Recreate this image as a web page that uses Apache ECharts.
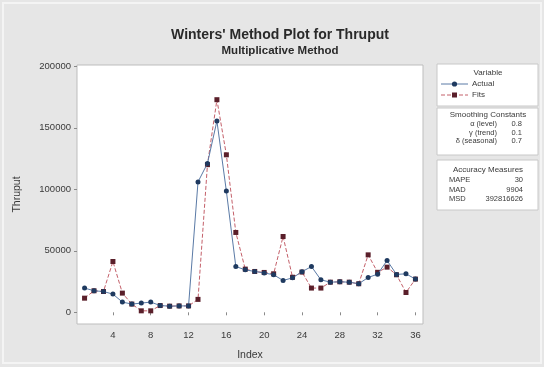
<!DOCTYPE html>
<html>
<head>
<meta charset="utf-8">
<script src="https://cdn.jsdelivr.net/npm/echarts@6/dist/echarts.min.js"></script>
<style>
html,body{margin:0;padding:0;background:#e6e6e6;}
#c{width:544px;height:367px;}
</style>
</head>
<body>
<div id="c"></div>
<script>
const indexValues = [1,2,3,4,5,6,7,8,9,10,11,12,13,14,15,16,17,18,19,20,21,22,23,24,25,26,27,28,29,30,31,32,33,34,35,36];
const actual = [19700,17500,16900,14800,8300,6700,7500,8300,5500,5000,5200,5200,106000,121000,155500,98500,37200,34500,33200,32000,30500,25900,28000,33000,37200,26400,24500,24800,24500,23200,28300,31000,42100,30800,31300,27000];
const fits = [11500,17500,16900,41300,15600,6700,1200,1200,5500,5000,5200,5200,10500,120000,172800,128000,64900,35100,33200,32400,31300,61600,28500,32700,19700,19700,24500,24800,24500,23200,46700,32500,36700,30500,16100,27000];
const xTicks = [4,8,12,16,20,24,28,32,36];
const yTicks = [0,50000,100000,150000,200000];
const smoothing = [["\u03b1 (level)","0.8"],["\u03b3 (trend)","0.1"],["\u03b4 (seasonal)","0.7"]];
const accuracy = [["MAPE","30"],["MAD","9904"],["MSD","392816626"]];

const chart = echarts.init(document.getElementById('c'));
const font = 'Liberation Sans, Arial, sans-serif';
const txt = '#3a3a3a';

const graphic = [
  {type:'rect', shape:{x:3,y:3,width:538,height:360}, style:{fill:'#e6e6e6', stroke:'#f4f4f4', lineWidth:2}, z:-10},
  {type:'rect', shape:{x:437,y:64,width:101,height:42}, style:{fill:'#ffffff', stroke:'#c8c8c8', lineWidth:1}},
  {type:'text', x:488, y:73, style:{text:'Variable', font:'8px '+font, fill:txt, align:'center', verticalAlign:'middle'}},
  {type:'line', shape:{x1:441,y1:84,x2:468,y2:84}, style:{stroke:'#5a7aa6', lineWidth:1}},
  {type:'circle', shape:{cx:454.5,cy:84,r:2.6}, style:{fill:'#1f3a60'}},
  {type:'text', x:472, y:84, style:{text:'Actual', font:'8px '+font, fill:txt, align:'left', verticalAlign:'middle'}},
  {type:'line', shape:{x1:441,y1:95,x2:468,y2:95}, style:{stroke:'#c4606a', lineWidth:1, lineDash:[4,2]}},
  {type:'rect', shape:{x:452,y:92.5,width:5,height:5}, style:{fill:'#5a1f2a'}},
  {type:'text', x:472, y:95, style:{text:'Fits', font:'8px '+font, fill:txt, align:'left', verticalAlign:'middle'}},
  {type:'rect', shape:{x:437,y:108,width:101,height:47}, style:{fill:'#ffffff', stroke:'#c8c8c8', lineWidth:1}},
  {type:'text', x:488, y:115, style:{text:'Smoothing Constants', font:'8px '+font, fill:txt, align:'center', verticalAlign:'middle'}},
  {type:'rect', shape:{x:437,y:160,width:101,height:50}, style:{fill:'#ffffff', stroke:'#c8c8c8', lineWidth:1}},
  {type:'text', x:488, y:170, style:{text:'Accuracy Measures', font:'8px '+font, fill:txt, align:'center', verticalAlign:'middle'}}
];
smoothing.forEach((r,i)=>{
  const y = 124 + i*8.5;
  graphic.push({type:'text', x:497, y:y, style:{text:r[0], font:'7.5px '+font, fill:txt, align:'right', verticalAlign:'middle'}});
  graphic.push({type:'text', x:522, y:y, style:{text:r[1], font:'7.5px '+font, fill:txt, align:'right', verticalAlign:'middle'}});
});
accuracy.forEach((r,i)=>{
  const y = 180 + i*9.7;
  graphic.push({type:'text', x:449, y:y, style:{text:r[0], font:'7.5px '+font, fill:txt, align:'left', verticalAlign:'middle'}});
  graphic.push({type:'text', x:523, y:y, style:{text:r[1], font:'7.5px '+font, fill:txt, align:'right', verticalAlign:'middle'}});
});

chart.setOption({
  animation:false,
  backgroundColor:'#e6e6e6',
  title:[
    {text:"Winters' Method Plot for Thruput", left:275, top:23, textAlign:'center',
     textStyle:{fontFamily:font, fontSize:14, fontWeight:'bold', color:'#2a2a2a'}},
    {text:'Multiplicative Method', left:275, top:40, textAlign:'center',
     textStyle:{fontFamily:font, fontSize:11.5, fontWeight:'bold', color:'#2a2a2a'}}
  ],
  grid:{left:77, right:121, top:65, bottom:43, show:true, backgroundColor:'#ffffff', borderColor:'#bdbdbd', borderWidth:1},
  xAxis:{
    type:'value', min:0.2, max:36.8,
    name:'Index', nameLocation:'middle', nameGap:26,
    nameTextStyle:{fontFamily:font, fontSize:10.5, color:txt},
    axisLine:{show:false},
    axisTick:{show:true, customValues:xTicks, length:3, lineStyle:{color:'#8a8a8a'}},
    axisLabel:{customValues:xTicks, fontFamily:font, fontSize:9.5, color:txt, margin:6},
    splitLine:{show:false}
  },
  yAxis:{
    type:'value', min:-9500, max:201000,
    name:'Thruput', nameLocation:'middle', nameGap:54, nameRotate:90,
    nameTextStyle:{fontFamily:font, fontSize:10.5, color:txt},
    axisLine:{show:false},
    axisTick:{show:true, customValues:yTicks, length:3, lineStyle:{color:'#8a8a8a'}},
    axisLabel:{customValues:yTicks, fontFamily:font, fontSize:9.5, color:txt, margin:6, formatter:v=>String(v)},
    splitLine:{show:false}
  },
  series:[
    {name:'Actual', type:'line', data:indexValues.map((x,i)=>[x,actual[i]]),
     symbol:'circle', symbolSize:5, showAllSymbol:true,
     lineStyle:{color:'#5a7aa6', width:1}, itemStyle:{color:'#1f3a60'}, z:3},
    {name:'Fits', type:'line', data:indexValues.map((x,i)=>[x,fits[i]]),
     symbol:'rect', symbolSize:5, showAllSymbol:true,
     lineStyle:{color:'#c4606a', width:1, type:[4,2]}, itemStyle:{color:'#5a1f2a'}, z:2}
  ],
  graphic:graphic
});
</script>
</body>
</html>
